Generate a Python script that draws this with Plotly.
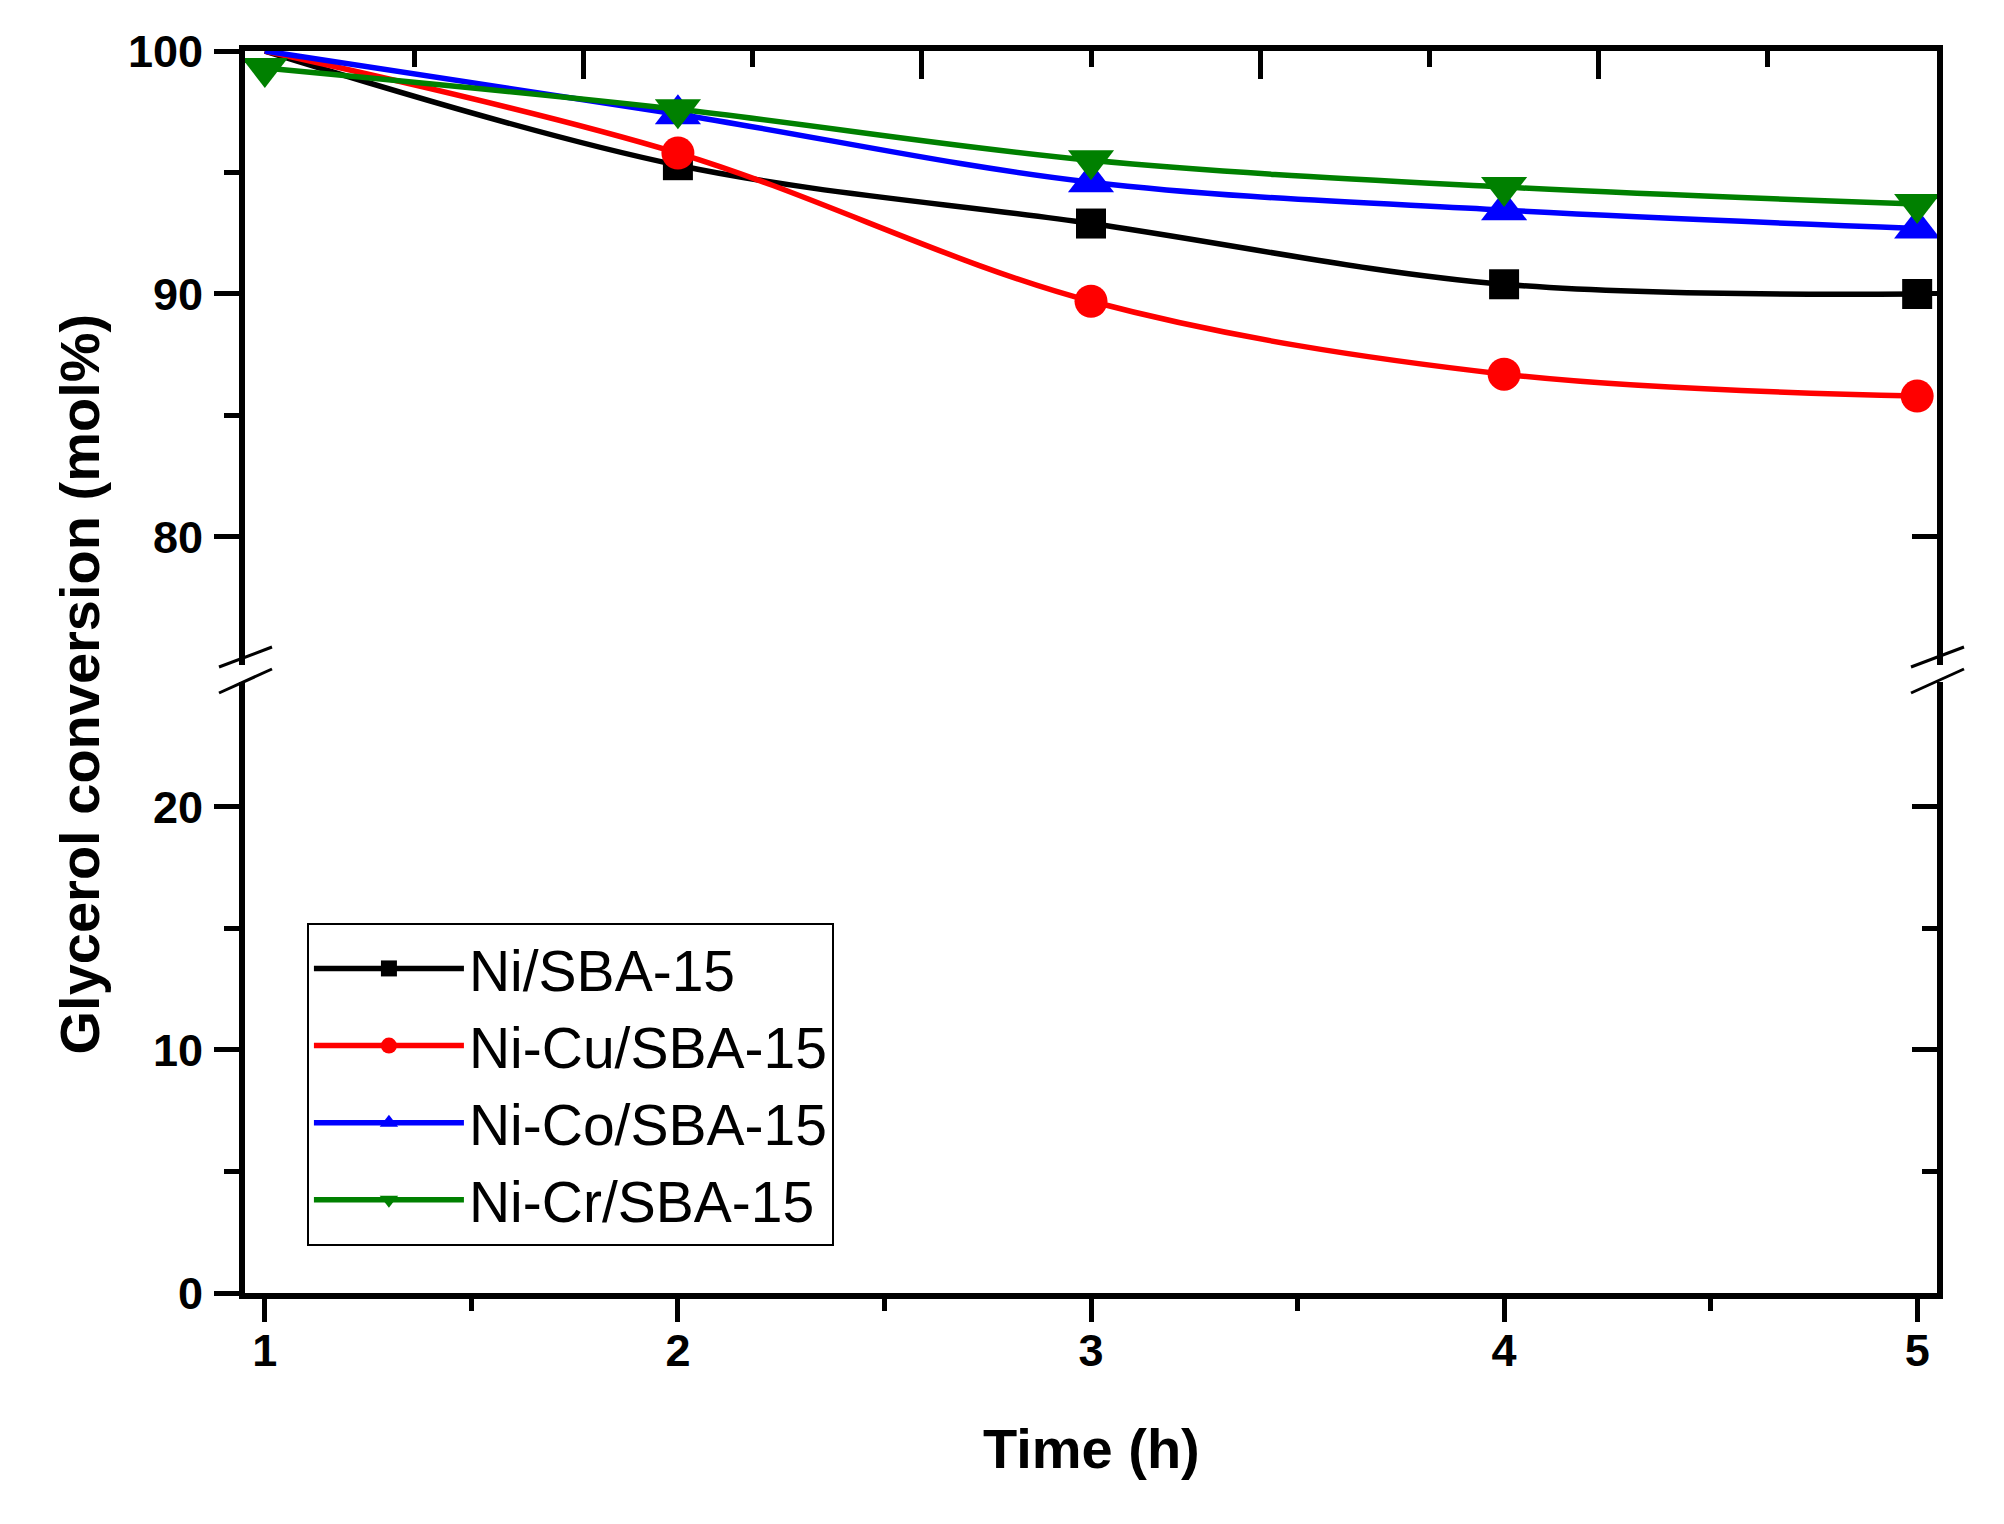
import plotly.graph_objects as go

# ---- data ----
time_h = [1, 2, 3, 4, 5]
ni_sba = [100.0, 95.3, 92.9, 90.4, 90.0]
ni_cu_sba = [100.0, 95.8, 89.7, 86.7, 85.8]
ni_co_sba = [100.0, 97.4, 94.6, 93.45, 92.7]
ni_cr_sba = [99.3, 97.6, 95.5, 94.4, 93.7]

series_names = ["Ni/SBA-15", "Ni-Cu/SBA-15", "Ni-Co/SBA-15", "Ni-Cr/SBA-15"]
series_values = [ni_sba, ni_cu_sba, ni_co_sba, ni_cr_sba]

x_ticks = [1, 2, 3, 4, 5]
x_minor = [1.5, 2.5, 3.5, 4.5]
lower_ticks = [0, 10, 20]
lower_minor = [5, 15]
upper_ticks = [80, 90, 100]
upper_minor = [85, 95]

# ---- styles ----
colors = ["#000000", "#FF0000", "#0000FF", "#008000"]
symbols = ["square", "circle", "triangle-up", "triangle-down"]
msizes = [30, 33, 40, 40]
# first-point markers of the 100 % series are hidden in the reference
first_visible = [False, False, False, True]

FONT = "Liberation Sans, Arial, sans-serif"
LW = 6

fig = go.Figure()

# empty helper traces so that every axis pair (lower panel, top axis, right axes) is drawn
for xa, ya in (("x", "y"), ("x2", "y2"), ("x", "y3"), ("x", "y4")):
    fig.add_trace(go.Scatter(x=[], y=[], xaxis=xa, yaxis=ya, mode="lines",
                             showlegend=False, hoverinfo="skip"))

for name, vals, c, s, ms, fv in zip(series_names, series_values, colors, symbols, msizes, first_visible):
    sizes = [ms if (i > 0 or fv) else 0 for i in range(len(vals))]
    fig.add_trace(go.Scatter(
        x=time_h, y=vals, name=name, mode="lines+markers",
        xaxis="x", yaxis="y2",
        line=dict(color=c, width=5.5, shape="spline", smoothing=1.0),
        marker=dict(symbol=s, size=sizes, color=c, opacity=1, line=dict(width=0)),
        cliponaxis=True,
    ))

H_plot = 1242.0
lower_top = 0.4919
upper_bot = 0.5056

tickfont = dict(family=FONT, size=45, color="black", weight="bold")

common_axis = dict(showline=True, linecolor="black", linewidth=LW, showgrid=False,
                   zeroline=False, tickcolor="black", tickwidth=5)

# page has an 8 px body margin, so the figure is placed 8 px right/down
fig.update_layout(
    width=1988, height=1508,
    margin=dict(l=237, r=59, t=43, b=223),
    paper_bgcolor="white", plot_bgcolor="white",
    showlegend=True,
    xaxis=dict(domain=[0, 1], range=[0.952, 5.048], anchor="y", side="bottom",
               tickmode="array", tickvals=x_ticks, ticks="outside", ticklen=23,
               minor=dict(tickmode="array", tickvals=x_minor, ticks="outside", ticklen=12,
                          tickwidth=5, tickcolor="black", showgrid=False),
               tickfont=tickfont, ticklabelstandoff=-10, **common_axis),
    xaxis2=dict(overlaying="x", anchor="y2", side="top", range=[0, 5],
                tickmode="array", tickvals=[1, 2, 3, 4], ticks="inside", ticklen=28,
                minor=dict(tickmode="array", tickvals=[0.5, 1.5, 2.5, 3.5, 4.5], ticks="inside",
                           ticklen=16, tickwidth=5, tickcolor="black", showgrid=False),
                showticklabels=False, **common_axis),
    yaxis=dict(domain=[0, lower_top], range=[0, 25.14], anchor="x", side="left",
               tickmode="array", tickvals=lower_ticks, ticks="outside", ticklen=25,
               minor=dict(tickmode="array", tickvals=lower_minor, ticks="outside", ticklen=15,
                          tickwidth=5, tickcolor="black", showgrid=False),
               tickfont=tickfont, ticklabelstandoff=2, **common_axis),
    yaxis2=dict(domain=[upper_bot, 1], range=[74.73, 100], anchor="x", side="left",
                tickmode="array", tickvals=upper_ticks, ticks="outside", ticklen=25,
                minor=dict(tickmode="array", tickvals=upper_minor, ticks="outside", ticklen=15,
                           tickwidth=5, tickcolor="black", showgrid=False),
                tickfont=tickfont, ticklabelstandoff=2, **common_axis),
    yaxis3=dict(overlaying="y", anchor="x", side="right", range=[0, 25.14],
                tickmode="array", tickvals=lower_ticks, ticks="inside", ticklen=25,
                minor=dict(tickmode="array", tickvals=lower_minor, ticks="inside", ticklen=15,
                           tickwidth=5, tickcolor="black", showgrid=False),
                showticklabels=False, **common_axis),
    yaxis4=dict(overlaying="y2", anchor="x", side="right", range=[74.73, 100],
                tickmode="array", tickvals=upper_ticks, ticks="inside", ticklen=25,
                showticklabels=False, **common_axis),
    legend=dict(x=0.0366, y=0.298, xanchor="left", yanchor="top",
                font=dict(family=FONT, size=57, color="black"),
                bordercolor="black", borderwidth=2, bgcolor="white",
                itemwidth=150, tracegroupgap=0, itemsizing="trace"),
)

# axis titles
fig.add_annotation(text="Time (h)", xref="paper", yref="paper", x=0.5, y=-0.1248,
                   xanchor="center", yanchor="middle", showarrow=False,
                   font=dict(family=FONT, size=56, color="black", weight="bold"))
fig.add_annotation(text="Glycerol conversion (mol%)", xref="paper", yref="paper",
                   x=-0.0981, y=0.49, xanchor="center", yanchor="middle", textangle=-90,
                   showarrow=False,
                   font=dict(family=FONT, size=56, color="black", weight="bold"))

# axis-break marks (decoration)
W = 1692.0
def px_x(dx):
    return dx / W
def px_y(Y):
    return (1293 - Y) / H_plot

for xc in (0.0, 1.0):
    for (ya, yb) in ((667, 647), (693, 669)):
        fig.add_shape(type="line", xref="paper", yref="paper",
                      x0=xc + px_x(-26), y0=px_y(ya), x1=xc + px_x(27), y1=px_y(yb),
                      line=dict(color="black", width=3))

fig.write_html("out.html")
